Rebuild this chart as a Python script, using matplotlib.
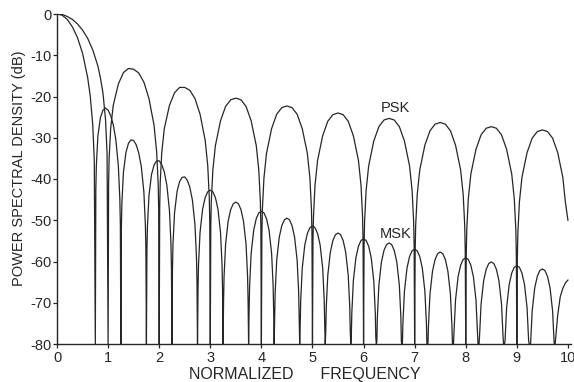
import matplotlib
matplotlib.use('Agg')
import matplotlib.pyplot as plt

plt.rcParams['font.family'] = ['Liberation Sans', 'DejaVu Sans']
plt.rcParams['axes.unicode_minus'] = False

# PSK spectrum (frequency, dB)
psk_freq = [0.0, 0.1, 0.2, 0.3, 0.4, 0.5, 0.6, 0.7, 0.8, 0.85, 0.9, 0.95, 0.98, 1.0,
            1.01, 1.02, 1.05, 1.1, 1.2, 1.3, 1.4, 1.5, 1.6, 1.7, 1.8, 1.9, 1.95, 1.98, 1.99, 2.0,
            2.01, 2.02, 2.05, 2.1, 2.2, 2.3, 2.4, 2.5, 2.6, 2.7, 2.8, 2.9, 2.95, 2.98, 2.99, 3.0,
            3.01, 3.02, 3.05, 3.1, 3.2, 3.3, 3.4, 3.5, 3.6, 3.7, 3.8, 3.9, 3.95, 3.98, 3.99, 4.0,
            4.01, 4.02, 4.05, 4.1, 4.2, 4.3, 4.4, 4.5, 4.6, 4.7, 4.8, 4.9, 4.95, 4.98, 4.99, 5.0,
            5.01, 5.02, 5.05, 5.1, 5.2, 5.3, 5.4, 5.5, 5.6, 5.7, 5.8, 5.9, 5.95, 5.98, 5.99, 6.0,
            6.01, 6.02, 6.05, 6.1, 6.2, 6.3, 6.4, 6.5, 6.6, 6.7, 6.8, 6.9, 6.95, 6.98, 6.99, 7.0,
            7.01, 7.02, 7.05, 7.1, 7.2, 7.3, 7.4, 7.5, 7.6, 7.7, 7.8, 7.9, 7.95, 7.98, 7.99, 8.0,
            8.01, 8.02, 8.05, 8.1, 8.2, 8.3, 8.4, 8.5, 8.6, 8.7, 8.8, 8.9, 8.95, 8.98, 8.99, 9.0,
            9.01, 9.02, 9.05, 9.1, 9.2, 9.3, 9.4, 9.5, 9.6, 9.7, 9.8, 9.9, 9.95, 10.0]
psk_db = [0.0, -0.1, -0.6, -1.3, -2.4, -3.9, -5.9, -8.7, -12.6, -15.5, -19.2, -25.6, -33.8, -80,
          -41.0, -35.1, -27.8, -22.2, -17.0, -14.2, -13.2, -13.4, -14.3, -16.5, -20.5, -27.0, -33.4, -41.1, -47.2, -80,
          -46.9, -40.9, -33.6, -27.8, -22.2, -19.1, -17.8, -17.8, -18.5, -20.5, -24.3, -30.6, -36.7, -44.3, -50.3, -80,
          -51.4, -45.4, -37.9, -31.9, -25.9, -22.4, -20.8, -20.4, -20.8, -22.4, -25.9, -31.9, -37.9, -45.4, -51.4, -80,
          -53.3, -47.3, -39.8, -33.8, -27.8, -24.3, -22.7, -22.3, -22.7, -24.3, -27.8, -33.8, -39.8, -47.3, -53.3, -80,
          -55.0, -49.0, -41.5, -35.5, -29.5, -26.0, -24.4, -24.0, -24.4, -26.0, -29.5, -35.5, -41.5, -49.0, -55.0, -80,
          -56.3, -50.3, -42.8, -36.8, -30.8, -27.3, -25.7, -25.3, -25.7, -27.3, -30.8, -36.8, -42.8, -50.3, -56.3, -80,
          -57.3, -51.3, -43.8, -37.8, -31.8, -28.3, -26.7, -26.3, -26.7, -28.3, -31.8, -37.8, -43.8, -51.3, -57.3, -80,
          -58.3, -52.3, -44.8, -38.8, -32.8, -29.3, -27.7, -27.3, -27.7, -29.3, -32.8, -38.8, -44.8, -52.3, -58.3, -80,
          -59.1, -53.1, -45.6, -39.6, -33.6, -30.1, -28.5, -28.1, -28.5, -30.1, -33.6, -39.6, -45.6, -50.0]

# MSK spectrum (frequency, dB)
msk_freq = [0.0, 0.1, 0.2, 0.3, 0.4, 0.5, 0.6, 0.65, 0.7, 0.73, 0.75,
            0.76, 0.77, 0.8, 0.85, 0.9, 0.95, 1.0, 1.05, 1.1, 1.15, 1.2, 1.23, 1.24, 1.25,
            1.26, 1.27, 1.3, 1.35, 1.4, 1.45, 1.5, 1.55, 1.6, 1.65, 1.7, 1.73, 1.74, 1.75,
            1.76, 1.77, 1.8, 1.85, 1.9, 1.95, 2.0, 2.05, 2.1, 2.15, 2.2, 2.23, 2.24, 2.25,
            2.26, 2.27, 2.3, 2.35, 2.4, 2.45, 2.5, 2.55, 2.6, 2.65, 2.7, 2.73, 2.74, 2.75,
            2.76, 2.77, 2.8, 2.85, 2.9, 2.95, 3.0, 3.05, 3.1, 3.15, 3.2, 3.23, 3.24, 3.25,
            3.26, 3.27, 3.3, 3.35, 3.4, 3.45, 3.5, 3.55, 3.6, 3.65, 3.7, 3.73, 3.74, 3.75,
            3.76, 3.77, 3.8, 3.85, 3.9, 3.95, 4.0, 4.05, 4.1, 4.15, 4.2, 4.23, 4.24, 4.25,
            4.26, 4.27, 4.3, 4.35, 4.4, 4.45, 4.5, 4.55, 4.6, 4.65, 4.7, 4.73, 4.74, 4.75,
            4.76, 4.77, 4.8, 4.85, 4.9, 4.95, 5.0, 5.05, 5.1, 5.15, 5.2, 5.23, 5.24, 5.25,
            5.26, 5.27, 5.3, 5.35, 5.4, 5.45, 5.5, 5.55, 5.6, 5.65, 5.7, 5.73, 5.74, 5.75,
            5.76, 5.77, 5.8, 5.85, 5.9, 5.95, 6.0, 6.05, 6.1, 6.15, 6.2, 6.23, 6.24, 6.25,
            6.26, 6.27, 6.3, 6.35, 6.4, 6.45, 6.5, 6.55, 6.6, 6.65, 6.7, 6.73, 6.74, 6.75,
            6.76, 6.77, 6.8, 6.85, 6.9, 6.95, 7.0, 7.05, 7.1, 7.15, 7.2, 7.23, 7.24, 7.25,
            7.26, 7.27, 7.3, 7.35, 7.4, 7.45, 7.5, 7.55, 7.6, 7.65, 7.7, 7.73, 7.74, 7.75,
            7.76, 7.77, 7.8, 7.85, 7.9, 7.95, 8.0, 8.05, 8.1, 8.15, 8.2, 8.23, 8.24, 8.25,
            8.26, 8.27, 8.3, 8.35, 8.4, 8.45, 8.5, 8.55, 8.6, 8.65, 8.7, 8.73, 8.74, 8.75,
            8.76, 8.77, 8.8, 8.85, 8.9, 8.95, 9.0, 9.05, 9.1, 9.15, 9.2, 9.23, 9.24, 9.25,
            9.26, 9.27, 9.3, 9.35, 9.4, 9.45, 9.5, 9.55, 9.6, 9.65, 9.7, 9.73, 9.74, 9.75,
            9.8, 9.85, 9.9, 9.95, 10.0]
msk_db = [0.0, -0.3, -1.3, -3.1, -5.7, -9.5, -15.4, -19.8, -26.9, -35.6, -80,
          -42.5, -36.8, -29.6, -25.1, -23.3, -22.8, -23.3, -24.6, -26.8, -30.3, -36.7, -44.9, -51.0, -80,
          -51.7, -45.8, -38.4, -33.5, -31.3, -30.5, -30.7, -31.7, -33.7, -37.0, -43.1, -51.2, -57.3, -80,
          -57.4, -51.5, -44.0, -38.9, -36.6, -35.6, -35.6, -36.5, -38.3, -41.5, -47.5, -55.5, -61.6, -80,
          -61.8, -55.8, -48.3, -43.0, -40.6, -39.6, -39.5, -40.3, -42.0, -45.1, -51.0, -59.0, -65.1, -80,
          -66.7, -60.7, -52.9, -47.3, -44.5, -43.1, -42.7, -43.1, -44.5, -47.3, -52.9, -60.7, -66.7, -80,
          -69.6, -63.6, -55.8, -50.2, -47.4, -46.0, -45.6, -46.0, -47.4, -50.2, -55.8, -63.6, -69.6, -80,
          -71.8, -65.8, -58.0, -52.4, -49.6, -48.2, -47.8, -48.2, -49.6, -52.4, -58.0, -65.8, -71.8, -80,
          -73.5, -67.5, -59.7, -54.1, -51.3, -49.9, -49.5, -49.9, -51.3, -54.1, -59.7, -67.5, -73.5, -80,
          -75.4, -69.4, -61.6, -56.0, -53.2, -51.8, -51.4, -51.8, -53.2, -56.0, -61.6, -69.4, -75.4, -80,
          -77.1, -71.1, -63.3, -57.7, -54.9, -53.5, -53.1, -53.5, -54.9, -57.7, -63.3, -71.1, -77.1, -80,
          -78.5, -72.5, -64.7, -59.1, -56.3, -54.9, -54.5, -54.9, -56.3, -59.1, -64.7, -72.5, -78.5, -80,
          -79.5, -73.5, -65.7, -60.1, -57.3, -55.9, -55.5, -55.9, -57.3, -60.1, -65.7, -73.5, -79.5, -80,
          -80.0, -75.0, -67.2, -61.6, -58.8, -57.4, -57.0, -57.4, -58.8, -61.6, -67.2, -75.0, -80.0, -80,
          -80.0, -75.7, -67.9, -62.3, -59.5, -58.1, -57.7, -58.1, -59.5, -62.3, -67.9, -75.7, -80.0, -80,
          -80.0, -77.1, -69.3, -63.7, -60.9, -59.5, -59.1, -59.5, -60.9, -63.7, -69.3, -77.1, -80.0, -80,
          -80.0, -78.1, -70.3, -64.7, -61.9, -60.5, -60.1, -60.5, -61.9, -64.7, -70.3, -78.1, -80.0, -80,
          -80.0, -79.0, -71.2, -65.6, -62.8, -61.4, -61.0, -61.4, -62.8, -65.6, -71.2, -79.0, -80.0, -80,
          -80.0, -79.8, -72.0, -66.4, -63.6, -62.2, -61.8, -62.2, -63.6, -66.4, -72.0, -79.8, -80.0, -80,
          -73.0, -68.5, -66.5, -65.2, -64.5]

x_ticks = [0, 1, 2, 3, 4, 5, 6, 7, 8, 9, 10]
y_ticks = [0, -10, -20, -30, -40, -50, -60, -70, -80]

W, H = 574, 382
fig = plt.figure(figsize=(W / 100, H / 100), dpi=100)
ax = fig.add_axes([57 / W, 1 - 344 / H, (571 - 57) / W, (344 - 14) / H])

ink = '#262626'
ax.plot(psk_freq, psk_db, color=ink, lw=0.9)
ax.plot(msk_freq, msk_db, color=ink, lw=0.9)

ax.set_xlim(0, 10.06)
ax.set_ylim(-80, 0)
for side in ['top', 'right']:
    ax.spines[side].set_visible(False)
for side in ['left', 'bottom']:
    ax.spines[side].set_color(ink)
    ax.spines[side].set_linewidth(1.0)

ax.set_xticks(x_ticks)
ax.set_yticks(y_ticks)
ax.set_xticklabels([str(v) for v in x_ticks])
ax.set_yticklabels([str(v) for v in y_ticks])
ax.tick_params(axis='both', direction='out', length=3, width=0.9, color=ink,
               labelsize=10.5, labelcolor=ink)
ax.tick_params(axis='y', pad=1)
ax.tick_params(axis='x', pad=2)

ax.set_xlabel('NORMALIZED      FREQUENCY', fontsize=11.5, color=ink)
ax.xaxis.set_label_coords((305 - 57) / 514, -0.07)
ax.set_ylabel('POWER SPECTRAL DENSITY (dB)', fontsize=10.5, color=ink)
ax.yaxis.set_label_coords(-0.06, (344 - 168) / 330)

ax.text(6.62, -22.8, 'PSK', fontsize=10.5, ha='center', va='center', color=ink)
ax.text(6.63, -53.3, 'MSK', fontsize=10.5, ha='center', va='center', color=ink)

fig.savefig('out.png', dpi=100)
